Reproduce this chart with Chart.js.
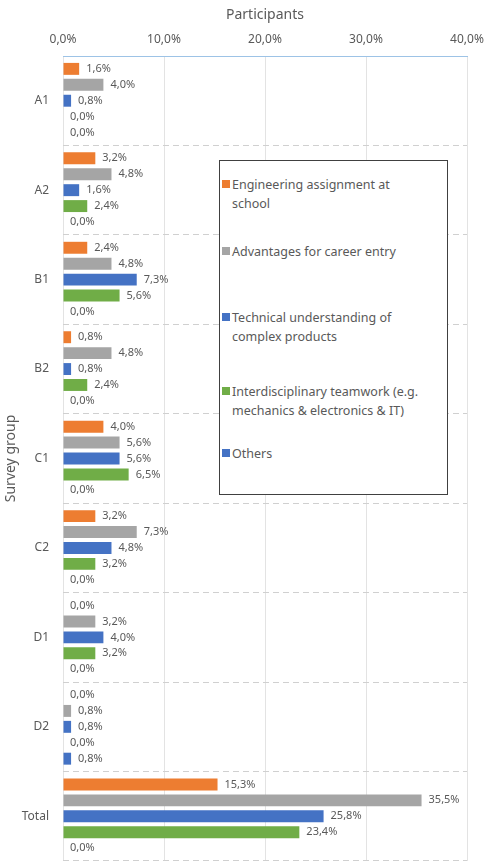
<!DOCTYPE html>
<html>
<head>
<meta charset="utf-8">
<script src="https://cdn.jsdelivr.net/npm/chart.js@4"></script>
<style>
  html, body { margin: 0; padding: 0; background: #fff; }
  #wrap { position: relative; width: 484px; height: 861px; overflow: hidden; }
  #legend {
    position: absolute; left: 219px; top: 160px; width: 229px; height: 335px;
    box-sizing: border-box; border: 1px solid #404040; background: #fff;
    font-family: "Noto Sans", sans-serif; font-size: 12.5px; color: #595959;
  }
  .item { position: absolute; left: 12px; line-height: 19px; }
  .item i { position: absolute; left: -10px; top: 5px; width: 8px; height: 8px; }
</style>
</head>
<body>
<div id="wrap">
  <canvas id="c" width="484" height="861"></canvas>
  <div id="legend"></div>
</div>
<script>
var groups = ['A1', 'A2', 'B1', 'B2', 'C1', 'C2', 'D1', 'D2', 'Total']
var seriesNames = ['Engineering assignment at<br>school', 'Advantages for career entry',
  'Technical understanding of<br>complex products',
  'Interdisciplinary teamwork (e.g.<br>mechanics &amp; electronics &amp; IT)', 'Others']
var engineering = [1.6, 3.2, 2.4, 0.8, 4.0, 3.2, 0.0, 0.0, 15.3]
var career = [4.0, 4.8, 4.8, 4.8, 5.6, 7.3, 3.2, 0.8, 35.5]
var technical = [0.8, 1.6, 7.3, 0.8, 5.6, 4.8, 4.0, 0.8, 25.8]
var teamwork = [0.0, 2.4, 5.6, 2.4, 6.5, 3.2, 3.2, 0.0, 23.4]
var others = [0.0, 0.0, 0.0, 0.0, 0.0, 0.0, 0.0, 0.8, 0.0]
var xTicks = [0, 10, 20, 30, 40]
var colors = ['#ED7D31', '#A5A5A5', '#4472C4', '#70AD47', '#4472C4']
var legendTops = [14, 81, 147, 221, 283]

var fmt = function (v) { return v.toFixed(1).replace('.', ',') + '%' }

// value labels next to each bar
var barLabels = {
  id: 'barLabels',
  afterDatasetsDraw: function (chart) {
    var ctx = chart.ctx
    ctx.save()
    ctx.font = '11px "Noto Sans", sans-serif'
    ctx.fillStyle = '#595959'
    ctx.textBaseline = 'middle'
    chart.data.datasets.forEach(function (ds, i) {
      chart.getDatasetMeta(i).data.forEach(function (el, j) {
        ctx.fillText(fmt(ds.data[j]), el.x + 7, el.y)
      })
    })
    ctx.restore()
  }
}

var allSeries = [engineering, career, technical, teamwork, others]
var datasets = allSeries.map(function (values, i) {
  return {
    label: seriesNames[i].replace('<br>', ' '),
    data: values,
    backgroundColor: colors[i],
    categoryPercentage: 0.89,
    barPercentage: 0.75
  }
})

new Chart(document.getElementById('c').getContext('2d'), {
  type: 'bar',
  data: { labels: groups, datasets: datasets },
  options: {
    indexAxis: 'y',
    responsive: false,
    animation: false,
    layout: { padding: { left: 0, right: 0, top: 0, bottom: -3 } },
    plugins: { legend: { display: false }, tooltip: { enabled: false } },
    scales: {
      x: {
        position: 'top',
        min: 0, max: 40,
        afterBuildTicks: function (axis) {
          axis.ticks = xTicks.map(function (v) { return { value: v } })
        },
        afterFit: function (axis) {
          axis.height = 56
          axis.paddingLeft = 0
          axis.paddingRight = 17
        },
        ticks: {
          color: '#595959', padding: 9,
          font: { family: '"Noto Sans", sans-serif', size: 12 },
          callback: function (v) { return fmt(v) }
        },
        grid: { color: '#e3e3e3', drawTicks: false },
        border: { color: '#9DC3E6', width: 1 },
        title: {
          display: true, text: 'Participants', color: '#595959',
          font: { family: '"Noto Sans", sans-serif', size: 14 },
          padding: { top: 7, bottom: 0 }
        }
      },
      y: {
        afterFit: function (axis) {
          axis.width = 63
          axis.paddingTop = 0
          axis.paddingBottom = 0
        },
        ticks: {
          color: '#595959', padding: 14,
          font: { family: '"Noto Sans", sans-serif', size: 12 }
        },
        grid: { offset: true, color: '#d0d0d0', drawTicks: false },
        border: { display: false, dash: [6, 4] },
        title: {
          display: true, text: 'Survey group', color: '#595959',
          font: { family: '"Noto Sans", sans-serif', size: 14 },
          padding: { top: 3, bottom: 0 }
        }
      }
    }
  },
  plugins: [barLabels]
})

var legend = document.getElementById('legend')
seriesNames.forEach(function (name, i) {
  var d = document.createElement('div')
  d.className = 'item'
  d.style.top = legendTops[i] + 'px'
  d.innerHTML = '<i style="background:' + colors[i] + '"></i>' + name
  legend.appendChild(d)
})
</script>
</body>
</html>
